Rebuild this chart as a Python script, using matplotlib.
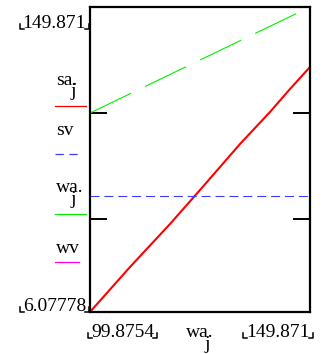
import matplotlib
matplotlib.use("Agg")
import matplotlib.pyplot as plt
from matplotlib.lines import Line2D
from matplotlib.transforms import IdentityTransform

# data
wa = [99.8754, 108.965, 118.055, 124.873, 133.963, 140.781, 145.326, 149.871]
sa = [6.07778, 27.29, 47.57, 63.59, 85.28, 100.37, 111.21, 121.59]
sv = 60.77
x_lim = [99.8754, 149.871]
y_lim = [6.07778, 149.871]
y_ticks = [50, 100]

W, H = 325, 354
plt.rcParams["lines.scale_dashes"] = False
serif = "Liberation Serif"

fig = plt.figure(figsize=(W / 100, H / 100), dpi=100)
ax = fig.add_axes([90 / W, 1 - 312 / H, 220 / W, 305 / H])

ax.plot(wa, sa, color="#ff0000", lw=1.5)
ax.plot(x_lim, x_lim, color="#00f000", lw=0.8, dashes=(32.8, 11.2))
ax.axhline(sv, color="#3c3cff", lw=0.8, dashes=(6.5, 3.5))

ax.set_xlim(x_lim)
ax.set_ylim(y_lim)
ax.set_xticks([])
ax.set_yticks(y_ticks)
ax.tick_params(axis="y", direction="in", length=12, width=1.4,
               left=True, right=True, labelleft=False)
for s in ax.spines.values():
    s.set_linewidth(1.6)

renderer = fig.canvas.get_renderer()


def pix_line(xs, ys, **kw):
    # xs, ys in image pixels, y measured from the top
    fig.add_artist(Line2D(xs, [H - y for y in ys], transform=IdentityTransform(), **kw))


def txt(px, base, s, ha="left", brackets=False):
    t = fig.text(px / W, 1 - base / H, s, family=serif, fontsize=14,
                 ha=ha, va="baseline")
    if brackets:
        bb = t.get_window_extent(renderer)
        yb = base + 1
        xl, xr = bb.x0 - 3, bb.x1 + 3
        pix_line([xl, xl, xl + 4], [yb - 5, yb, yb], color="black", lw=1.1)
        pix_line([xr, xr, xr - 4], [yb - 5, yb, yb], color="black", lw=1.1)
    return t


# axis limit labels
txt(86, 28, "149.871", ha="right", brackets=True)
txt(86, 311, "6.07778", ha="right", brackets=True)
txt(91, 337, "99.8754", brackets=True)
txt(246, 337, "149.871", brackets=True)
txt(186, 337, "wa.")
txt(205, 349, "j")

# legend on the left
txt(56, 85, "sa.")
txt(70, 96, "j")
txt(56, 135, "sv")
txt(56, 192, "wa.")
txt(70, 204, "j")
txt(56, 253, "wv")

legend_lines = [
    (106, 55, 86, "#ff0000", None),
    (154, 55, 79, "#3c3cff", (6, 4)),
    (214, 55, 86, "#00f000", None),
    (262, 55, 79, "#ff00ff", None),
]
for py, x0, x1, c, d in legend_lines:
    ln = Line2D([x0 / W, x1 / W], [1 - py / H, 1 - py / H],
                transform=fig.transFigure, color=c, lw=0.9)
    if d:
        ln.set_dashes(d)
    fig.add_artist(ln)

fig.savefig("out.png", dpi=100)
